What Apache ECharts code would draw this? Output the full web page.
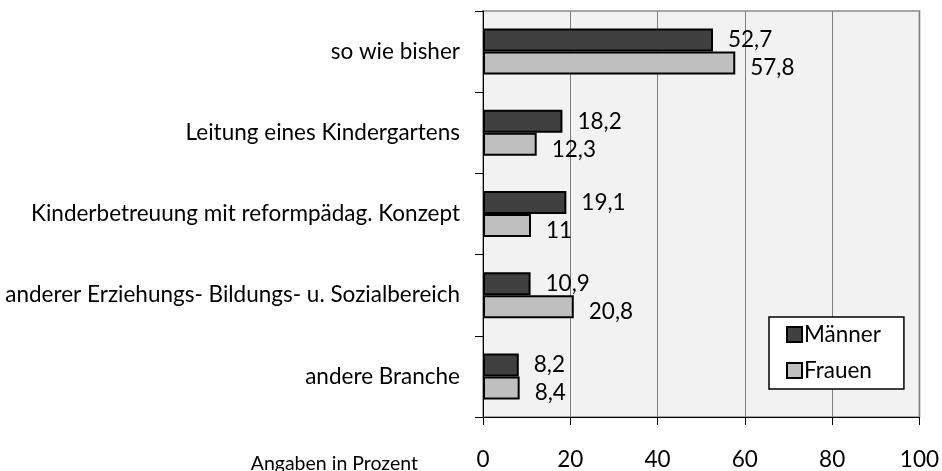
<!DOCTYPE html>
<html>
<head>
<meta charset="utf-8">
<script src="https://cdn.jsdelivr.net/npm/echarts@6/dist/echarts.min.js"></script>
<style>
  html, body { margin: 0; padding: 0; background: #ffffff; }
  #chart { width: 942px; height: 471px; }
</style>
</head>
<body>
<div id="chart"></div>
<script>
// Gewünschte berufliche Perspektive, nach Geschlecht (Angaben in Prozent)
const categories = [
  'so wie bisher',
  'Leitung eines Kindergartens',
  'Kinderbetreuung mit reformpädag. Konzept',
  'anderer Erziehungs- Bildungs- u. Sozialbereich',
  'andere Branche'
];
const maenner = [52.7, 18.2, 19.1, 10.9, 8.2];
const frauen = [57.8, 12.3, 11, 20.8, 8.4];
const xTicks = [0, 20, 40, 60, 80, 100];

const FONT = 'Lato';
const FS = 22.5;
const fmt = v => String(v).replace('.', ',');

const chart = echarts.init(document.getElementById('chart'), null, { renderer: 'canvas' });

chart.setOption({
  animation: false,
  textStyle: { fontFamily: FONT, color: '#000' },
  grid: {
    left: 483, right: 19, top: 11, bottom: 47,
    show: true,
    backgroundColor: '#f2f2f2',
    borderColor: '#a6a6a6',
    borderWidth: 2
  },
  legend: {
    orient: 'vertical',
    left: 769, top: 317,
    padding: [6, 23, 7, 17],
    itemGap: 13,
    itemWidth: 15, itemHeight: 15,
    backgroundColor: '#ffffff',
    borderColor: '#000000',
    borderWidth: 1.5,
    borderRadius: 0,
    icon: 'rect',
    textStyle: { fontFamily: FONT, fontSize: FS, color: '#000', padding: [0, 0, 0, -3] },
    data: ['Männer', 'Frauen']
  },
  xAxis: {
    type: 'value',
    min: xTicks[0], max: xTicks[xTicks.length - 1], interval: 20,
    axisLine: { show: true, lineStyle: { color: '#000', width: 1 } },
    axisTick: { show: true, length: 8, lineStyle: { color: '#000' } },
    axisLabel: {
      fontFamily: FONT, fontSize: FS, color: '#000', margin: 31,
      formatter: v => xTicks.includes(v) ? String(v) : ''
    },
    splitLine: { show: true, lineStyle: { color: '#7f7f7f', width: 1 } }
  },
  yAxis: {
    type: 'category',
    inverse: true,
    data: categories,
    axisLine: { show: true, lineStyle: { color: '#000', width: 1 } },
    axisTick: { show: true, length: 8, lineStyle: { color: '#000' } },
    axisLabel: { fontFamily: FONT, fontSize: FS, color: '#000', margin: 23, padding: [8, 0, 0, 0] }
  },
  graphic: [{
    type: 'text',
    right: 942 - 418,
    top: 454,
    style: { text: 'Angaben in Prozent', font: '19.5px ' + FONT, fill: '#000' }
  }],
  series: [
    {
      name: 'Männer',
      type: 'bar',
      data: maenner,
      barWidth: 23,
      barGap: '0%',
      itemStyle: { color: '#404040', borderColor: '#000', borderWidth: 2 },
      label: {
        show: true, position: 'right', distance: 15,
        fontFamily: FONT, fontSize: FS, color: '#000',
        offset: [0, 0],
        formatter: p => fmt(p.value)
      }
    },
    {
      name: 'Frauen',
      type: 'bar',
      data: frauen,
      barWidth: 23,
      barGap: '0%',
      itemStyle: { color: '#bfbfbf', borderColor: '#000', borderWidth: 2 },
      label: {
        show: true, position: 'right', distance: 15,
        fontFamily: FONT, fontSize: FS, color: '#000',
        offset: [0, 5],
        formatter: p => fmt(p.value)
      }
    }
  ]
});
</script>
</body>
</html>
